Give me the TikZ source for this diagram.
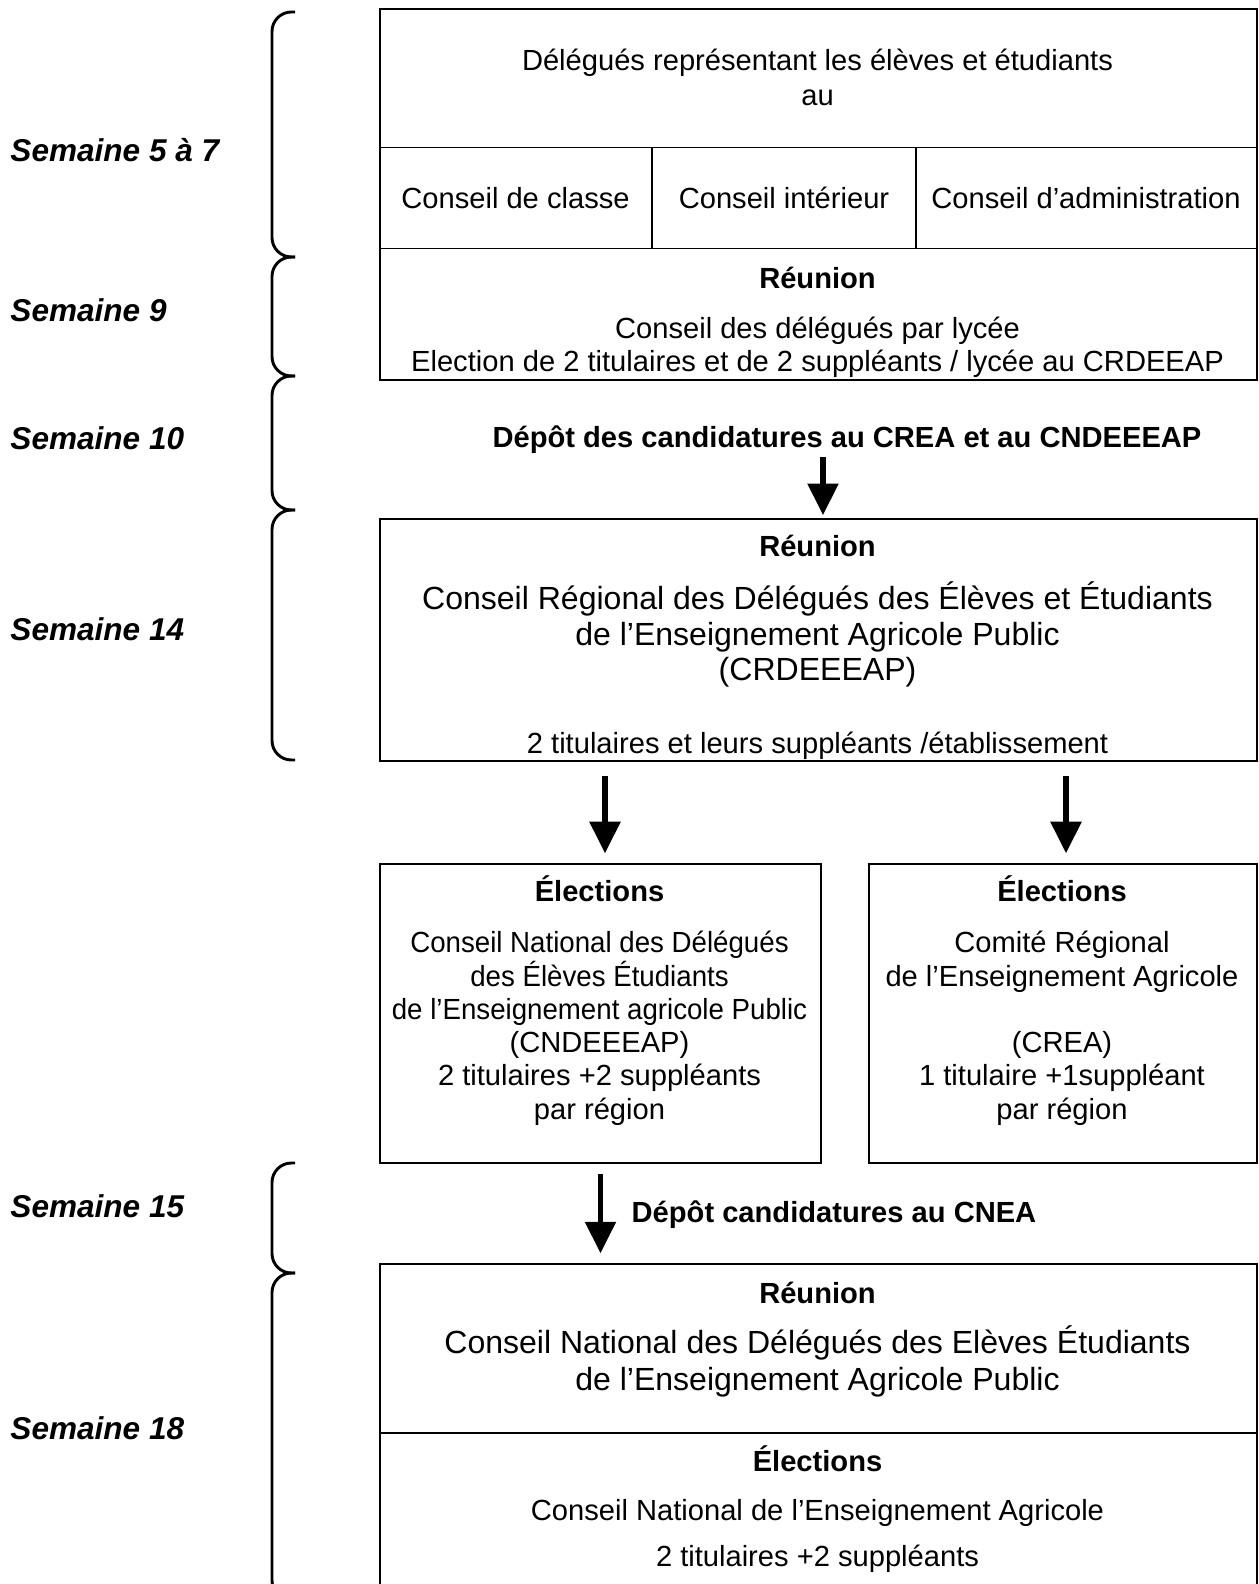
\documentclass[tikz,border=0pt]{standalone}
\usepackage{fontspec}
\usepackage{graphicx}
\setmainfont{Liberation Sans}
\usetikzlibrary{arrows.meta}

\begin{document}
\begin{tikzpicture}[x=0.412pt,y=-0.412pt,cadre/.style={draw,line width=0.8pt,inner sep=0pt,anchor=north west},trait/.style={line width=0.8pt},txt/.style={anchor=base,inner sep=0pt,align=center,font=\fontsize{12}{14}\selectfont},titre/.style={txt,font=\fontsize{12}{14}\selectfont\bfseries},gros/.style={txt,font=\fontsize{13.2}{15}\selectfont},semaine/.style={anchor=base west,inner sep=0pt,font=\fontsize{13}{15}\selectfont\bfseries\itshape},accolade/.style={line width=1.2pt,rounded corners=8pt},fleche/.style={line width=2.2pt,-{Triangle[width=12.4pt,length=13pt]}}]
\def\pxl{0.412pt}
\def\xm{817.5}
\def\serre#1{\scalebox{0.95}[1]{#1}}

\useasboundingbox (0,0) rectangle (1259,1584);
\clip (0,0) rectangle (1259,1584);

%BOXES
\node[cadre,minimum width=877*\pxl,minimum height=371*\pxl] (haut) at (379,8) {};
\node[cadre,minimum width=877*\pxl,minimum height=242*\pxl] (crdeeeap) at (379,518) {};
\node[cadre,minimum width=441*\pxl,minimum height=299*\pxl] (cndeeeap) at (379,863) {};
\node[cadre,minimum width=388*\pxl,minimum height=299*\pxl] (crea) at (868,863) {};
\node[cadre,minimum width=877*\pxl,minimum height=337*\pxl] (cnea) at (379,1263) {};
\draw[trait] (379,147.5) -- (1256,147.5);
\draw[trait] (379,248.5) -- (1256,248.5);
\draw[trait] (652,147.5) -- (652,248.5);
\draw[trait] (916,147.5) -- (916,248.5);
\draw[trait] (379,1433) -- (1256,1433);

%TOP BOX (multi-line nodes sit on their last line)
\node[txt,font=\fontsize{12}{14.25}\selectfont] (delegues) at (\xm,105.3) {Délégués représentant les élèves et étudiants\\au};
\node[txt] (classe) at (515.5,209) {Conseil de classe};
\node[txt] (interieur) at (784,209) {Conseil intérieur};
\node[txt] (admin) at (1086,209) {Conseil d’administration};
\node[titre] (reunionA) at (\xm,288.3) {Réunion};
\node[txt,font=\fontsize{12}{13.5}\selectfont] (lycee) at (\xm,371.7) {Conseil des délégués par lycée\\Election de 2 titulaires et de 2 suppléants / lycée au CRDEEAP};

\node[titre] (depotA) at (847,448) {Dépôt des candidatures au CREA et au CNDEEEAP};

%CRDEEEAP
\node[titre] (reunionB) at (\xm,556.7) {Réunion};
\node[gros,font=\fontsize{13.2}{14.7}\selectfont] (conseilB) at (\xm,680.7) {Conseil Régional des Délégués des Élèves et Étudiants\\de l’Enseignement Agricole Public\\(CRDEEEAP)};
\node[txt] (titulB) at (\xm,753.3) {2 titulaires et leurs suppléants /établissement};

%ELECTIONS
\node[titre] (electC) at (599.5,901.7) {Élections};
\node[txt,font=\fontsize{12}{13.7}\selectfont] (conseilC) at (599.5,1119.2) {\serre{Conseil National des Délégués}\\\serre{des Élèves Étudiants}\\\serre{de l’Enseignement agricole Public}\\(CNDEEEAP)\\2 titulaires +2 suppléants\\par région};
\node[titre] (electD) at (1062,901.7) {Élections};
\node[txt,font=\fontsize{12}{13.7}\selectfont] (conseilD) at (1062,1119.2) {Comité Régional\\de l’Enseignement Agricole\\\mbox{}\\(CREA)\\1 titulaire +1suppléant\\par région};

\node[titre] (depotE) at (834,1222) {Dépôt candidatures au CNEA};

%CNEA
\node[titre] (reunionE) at (\xm,1303.3) {Réunion};
\node[gros,font=\fontsize{13.2}{15.1}\selectfont] (conseilE) at (\xm,1390) {Conseil National des Délégués des Elèves Étudiants\\de l’Enseignement Agricole Public};
\node[titre] (electE) at (\xm,1471.7) {Élections};
\node[txt] (cneaE) at (\xm,1520) {Conseil National de l’Enseignement Agricole};
\node[txt] (titulE) at (\xm,1566) {2 titulaires +2 suppléants};

%WEEKS
\node[semaine] (s5) at (10,161.7) {Semaine 5 à 7};
\node[semaine] (s9) at (10,321.7) {Semaine 9};
\node[semaine] (s10) at (10,449.5) {Semaine 10};
\node[semaine] (s14) at (10,640) {Semaine 14};
\node[semaine] (s15) at (10,1217) {Semaine 15};
\node[semaine] (s18) at (10,1439) {Semaine 18};

%BRACES
\foreach \ya/\yb in {12/257,257/376,376/510,510/760,1163/1273,1273/1600}
  \draw[accolade] (295,\ya) -- (272,\ya) -- (272,\yb) -- (295,\yb);

%ARROWS
\coordinate (fA) at (823,0);
\coordinate (fB) at (605,0);
\coordinate (fC) at (1066,0);
\draw[fleche,shorten <=1.2pt,shorten >=1.2pt] (fA |- depotA.south) -- (fA |- crdeeeap.north);
\draw[fleche,shorten <=5.8pt,shorten >=4pt] (fB |- crdeeeap.south) -- (fB |- cndeeeap.north);
\draw[fleche,shorten <=5.8pt,shorten >=4pt] (fC |- crdeeeap.south) -- (fC |- crea.north);
\draw[fleche,shorten <=4pt,shorten >=4pt] (cndeeeap.south) -- (cndeeeap.south |- cnea.north);
\end{tikzpicture}
\end{document}
